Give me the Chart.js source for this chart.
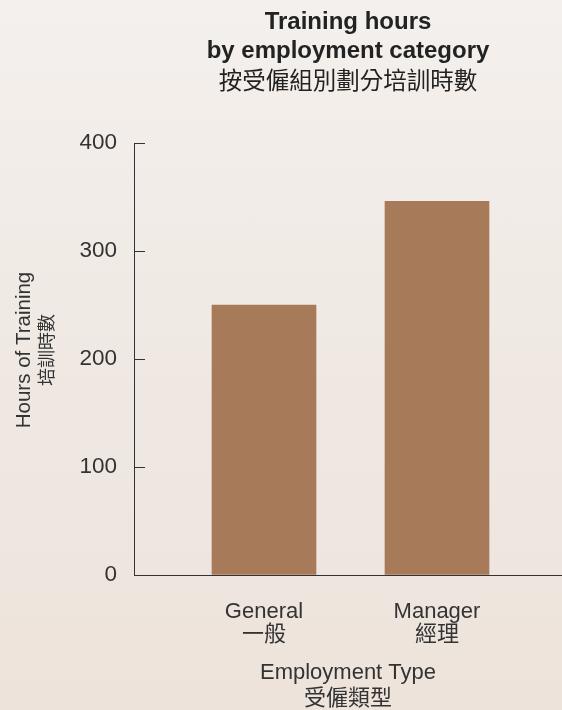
<!DOCTYPE html>
<html>
<head>
<meta charset="utf-8">
<script src="https://cdn.jsdelivr.net/npm/chart.js@4/dist/chart.umd.min.js"></script>
<style>
  html, body { margin: 0; padding: 0; }
  body {
    width: 562px; height: 710px; overflow: hidden;
    background: linear-gradient(to bottom, #f4f0ed 0%, #efe8e2 55%, #ede3db 100%);
  }
  #wrap { position: relative; width: 562px; height: 710px; }
</style>
</head>
<body>
<div id="wrap"><canvas id="chart" width="562" height="710"></canvas></div>
<script>
// ---- data ----
const categories = ['General', 'Manager'];
const categoriesZh = ['一般', '經理'];
const hours = [250, 346];
const yTicks = [0, 100, 200, 300, 400];

const titleLines = ['Training hours', 'by employment category'];
const subtitleText = '按受僱組別劃分培訓時數';
const xTitle = ['Employment Type', '受僱類型'];
const yTitle = ['Hours of Training', '培訓時數'];

const FAMILY = "'Liberation Sans', Arial, Helvetica, 'Noto Sans CJK TC', sans-serif";
const CJK = "'Noto Sans CJK TC', 'Liberation Sans', sans-serif";

const points = categories.map((c, i) => ({ x: i, y: hours[i] }));

// y-axis title (two lines, rotated), placed relative to the chart area
const yTitlePlugin = {
  id: 'yTitle',
  afterDraw(chart) {
    const { ctx, chartArea } = chart;
    ctx.save();
    ctx.translate(chartArea.left - 110, (chartArea.top + chartArea.bottom) / 2 - 9);
    ctx.rotate(-Math.PI / 2);
    ctx.textAlign = 'center';
    ctx.textBaseline = 'middle';
    ctx.fillStyle = '#333333';
    ctx.font = "20.5px " + FAMILY;
    ctx.fillText(yTitle[0], 0, 0);
    ctx.font = "18px " + CJK;
    ctx.fillText(yTitle[1], 0, 22);
    ctx.restore();
  }
};

new Chart(document.getElementById('chart'), {
  type: 'bar',
  data: {
    datasets: [{
      data: points,
      backgroundColor: '#a77b5a',
      borderWidth: 0,
      barThickness: 104
    }]
  },
  plugins: [yTitlePlugin],
  options: {
    responsive: false,
    devicePixelRatio: 1,
    animation: false,
    layout: { padding: 0 },
    plugins: {
      legend: { display: false },
      tooltip: { enabled: false },
      title: {
        display: true,
        text: titleLines,
        fullSize: false,
        color: '#222222',
        font: { family: FAMILY, size: 24, weight: 'bold', lineHeight: 1.2 },
        padding: { top: 8, bottom: 0 }
      },
      subtitle: {
        display: true,
        text: subtitleText,
        fullSize: false,
        color: '#222222',
        font: { family: CJK, size: 23.5, weight: 'normal', lineHeight: 1.2 },
        padding: { top: 0, bottom: 49.2 }
      }
    },
    scales: {
      x: {
        type: 'linear',
        min: -0.7514,
        max: 1.7225,
        offset: false,
        afterFit: (s) => { s.height = 135; },
        afterBuildTicks: (s) => { s.ticks = categories.map((c, i) => ({ value: i })); },
        grid: { display: true, drawOnChartArea: false, drawTicks: false, offset: false },
        border: { display: true, color: '#333333', width: 1 },
        ticks: {
          autoSkip: false,
          maxRotation: 0,
          padding: 25,
          color: '#333333',
          font: { family: FAMILY, size: 22, lineHeight: 1.05 },
          callback: (v, i) => [categories[i], categoriesZh[i]]
        },
        title: {
          display: true,
          text: xTitle,
          color: '#333333',
          font: { family: FAMILY, size: 22, lineHeight: 1.18 },
          padding: { top: 0, bottom: -2 }
        }
      },
      y: {
        min: 0,
        max: 400,
        afterFit: (s) => { s.width = 134; },
        afterBuildTicks: (s) => { s.ticks = yTicks.map(v => ({ value: v })); },
        grid: { display: true, drawOnChartArea: false, drawTicks: true, tickLength: -11, color: '#333333', lineWidth: 1 },
        border: { display: true, color: '#333333', width: 1 },
        ticks: {
          padding: 28,
          color: '#333333',
          font: { family: FAMILY, size: 22.5 }
        },
        title: { display: false }
      }
    }
  }
});
</script>
</body>
</html>
